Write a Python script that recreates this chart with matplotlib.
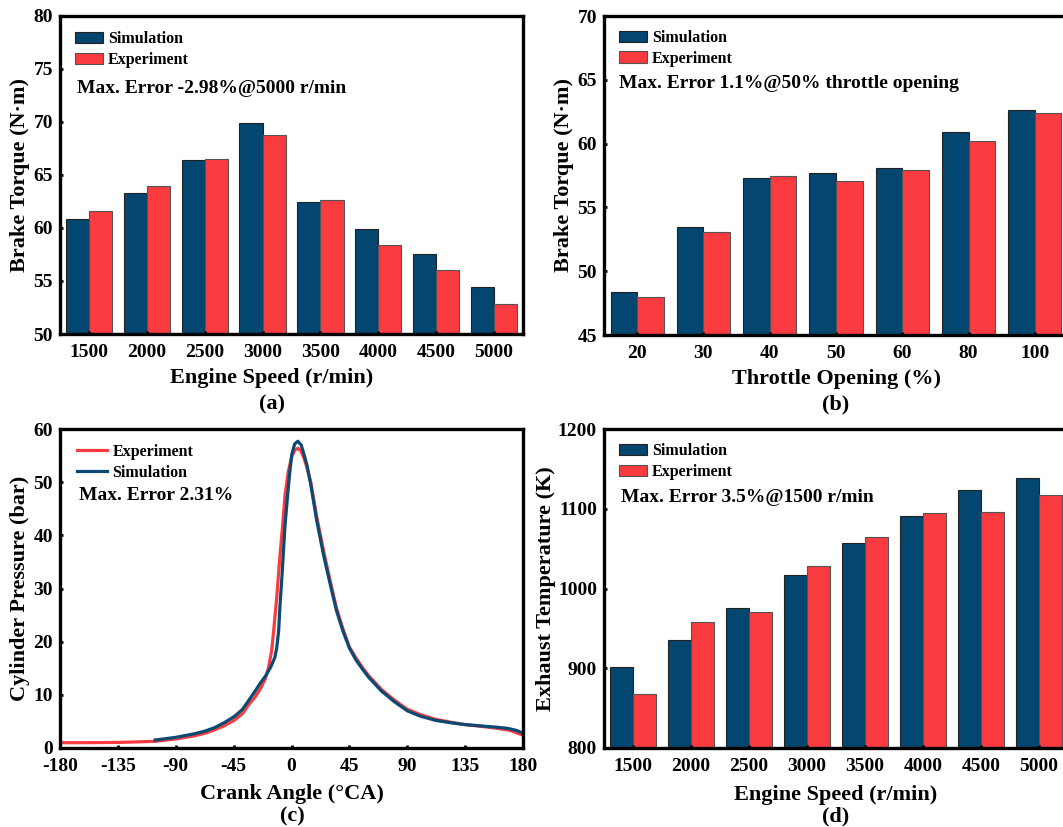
import numpy as np
import matplotlib
matplotlib.use("Agg")
import matplotlib.pyplot as plt

plt.rcParams['font.family'] = ['Liberation Serif', 'DejaVu Serif']
plt.rcParams['font.weight'] = 'bold'
plt.rcParams['axes.labelweight'] = 'bold'
plt.rcParams['axes.unicode_minus'] = False

SIM = '#03466F'
EXP = '#FA3B3F'

# (a) brake torque vs engine speed
speed = ['1500', '2000', '2500', '3000', '3500', '4000', '4500', '5000']
torque_sim = [60.8, 63.3, 66.4, 69.9, 62.4, 59.9, 57.5, 54.4]
torque_exp = [61.6, 63.9, 66.5, 68.7, 62.6, 58.4, 56.0, 52.8]

# (b) brake torque vs throttle opening
throttle = ['20', '30', '40', '50', '60', '80', '100']
thr_sim = [48.4, 53.5, 57.3, 57.7, 58.1, 60.9, 62.6]
thr_exp = [48.0, 53.1, 57.5, 57.1, 57.9, 60.2, 62.4]

# (c) cylinder pressure vs crank angle
ang_exp = [-180, -160, -135, -120, -106, -90, -75, -67, -60, -52, -44, -38, -34, -28,
           -24, -20.6, -18, -15.4, -13.5, -11.5, -8.9, -7, -5, -2.5, 0.2, 2.5, 5, 7.5,
           10, 12, 15, 19.6, 25, 30, 35, 40, 45, 50, 55, 60, 70, 80, 90, 100, 112,
           125, 135, 150, 160, 170, 180]
p_exp = [1.0, 1.0, 1.05, 1.15, 1.25, 1.7, 2.3, 2.8, 3.4, 4.2, 5.3, 6.5, 7.9, 9.7,
         11.2, 12.9, 15.0, 18.3, 23.0, 28.3, 36.4, 41.5, 47.6, 52.0, 54.8, 56.0, 56.4, 55.8,
         54.3, 52.8, 50.0, 43.5, 37.0, 31.5, 26.3, 22.4, 19.0, 17.0, 15.2, 13.6, 11.0, 9.0,
         7.3, 6.3, 5.4, 4.8, 4.4, 4.0, 3.7, 3.3, 2.4]
ang_sim = [-106, -90, -75, -67, -60, -52, -44, -38, -34, -28, -24, -20, -16, -13,
           -11.5, -10, -8.9, -7.5, -6.4, -5, -3.2, -1.5, 0.2, 2.5, 5, 7.5, 10, 12, 15,
           19.6, 25, 30, 35, 40, 45, 50, 55, 60, 70, 80, 90, 100, 112, 125, 135, 150,
           160, 168, 175, 180]
p_sim = [1.5, 2.0, 2.7, 3.2, 3.8, 4.8, 6.0, 7.3, 8.7, 10.8, 12.3, 13.6, 15.3, 17.0,
         18.8, 22.0, 27.0, 32.0, 36.4, 42.0, 47.0, 51.5, 55.2, 57.2, 57.7, 57.0, 55.0, 53.2, 49.5,
         42.8, 36.2, 30.9, 25.8, 22.0, 18.8, 16.6, 14.9, 13.3, 10.7, 8.7, 7.0, 6.0, 5.2, 4.7,
         4.4, 4.1, 3.9, 3.7, 3.3, 2.8]

# (d) exhaust temperature vs engine speed
temp_sim = [901, 936, 976, 1017, 1057, 1091, 1123, 1139]
temp_exp = [868, 958, 970, 1028, 1064, 1095, 1096, 1117]

fig = plt.figure(figsize=(10.63, 8.27), dpi=100)
W, H = 1063, 827


def place(l, t, r, b):
    return fig.add_axes([l / W, 1 - b / H, (r - l) / W, (b - t) / H])


ax_a = place(60, 15.5, 523, 334)
ax_b = place(604, 16, 1068, 335)
ax_c = place(60, 429, 523, 748)
ax_d = place(604, 429, 1068, 748)


def style(ax):
    for s in ax.spines.values():
        s.set_linewidth(2.4)
    ax.tick_params(direction='in', length=2.5, width=2, labelsize=14, pad=5)
    ax.tick_params(axis='x', pad=7)


def bars(ax, cats, sim, exp, ylim, yticks, legy):
    x = np.arange(len(cats))
    w = 0.4
    ax.bar(x - w / 2, sim, w, color=SIM, edgecolor='#222222', linewidth=0.8, label='Simulation')
    ax.bar(x + w / 2, exp, w, color=EXP, edgecolor='#555555', linewidth=0.8, label='Experiment')
    ax.set_xticks(x)
    ax.set_xticklabels(cats)
    ax.set_xlim(-0.5, len(cats) - 0.5)
    ax.set_ylim(*ylim)
    ax.set_yticks(yticks)
    style(ax)
    ax.legend(loc='upper left', bbox_to_anchor=(0.033, legy), frameon=False, fontsize=11.5,
              handlelength=1.75, handleheight=0.7, handletextpad=0.3, labelspacing=0.3,
              borderaxespad=0, borderpad=0)


bars(ax_a, speed, torque_sim, torque_exp, (50, 80), range(50, 81, 5), 0.95)
ax_a.set_ylabel('Brake Torque (N·m)', fontsize=16, va='center')
ax_a.yaxis.set_label_coords(-0.087, 0.5)
ax_a.set_xlabel('Engine Speed (r/min)', fontsize=16, va='center')
ax_a.xaxis.set_label_coords(0.457, -0.138)
ax_a.text(0.037, 0.772, 'Max. Error -2.98%@5000 r/min', transform=ax_a.transAxes,
          fontsize=14, va='center', ha='left')

bars(ax_b, throttle, thr_sim, thr_exp, (45, 70), range(45, 71, 5), 0.957)
ax_b.set_ylabel('Brake Torque (N·m)', fontsize=16, va='center')
ax_b.yaxis.set_label_coords(-0.086, 0.5)
ax_b.set_xlabel('Throttle Opening (%)', fontsize=16, va='center')
ax_b.xaxis.set_label_coords(0.5, -0.139)
ax_b.text(0.033, 0.787, 'Max. Error 1.1%@50% throttle opening', transform=ax_b.transAxes,
          fontsize=14, va='center', ha='left')

bars(ax_d, speed, temp_sim, temp_exp, (800, 1200), range(800, 1201, 100), 0.956)
ax_d.set_ylabel('Exhaust Temperature (K)', fontsize=16, va='center')
ax_d.yaxis.set_label_coords(-0.124, 0.5)
ax_d.set_xlabel('Engine Speed (r/min)', fontsize=16, va='center')
ax_d.xaxis.set_label_coords(0.5, -0.147)
ax_d.text(0.037, 0.785, 'Max. Error 3.5%@1500 r/min', transform=ax_d.transAxes,
          fontsize=14, va='center', ha='left')

ax_c.plot(ang_exp, p_exp, color=EXP, lw=2.3, label='Experiment')
ax_c.plot(ang_sim, p_sim, color='#0B4A73', lw=2.3, label='Simulation')
ax_c.set_xlim(-180, 180)
ax_c.set_ylim(0, 60)
ax_c.set_xticks(range(-180, 181, 45))
ax_c.set_yticks(range(0, 61, 10))
style(ax_c)
ax_c.legend(loc='upper left', bbox_to_anchor=(0.037, 0.953), frameon=False, fontsize=11.5,
            handlelength=1.9, handletextpad=0.3, labelspacing=0.3,
            borderaxespad=0, borderpad=0)
ax_c.set_ylabel('Cylinder Pressure (bar)', fontsize=16, va='center')
ax_c.yaxis.set_label_coords(-0.086, 0.5)
ax_c.set_xlabel('Crank Angle (°CA)', fontsize=16, va='center')
ax_c.xaxis.set_label_coords(0.5, -0.143)
ax_c.text(0.042, 0.79, 'Max. Error 2.31%', transform=ax_c.transAxes,
          fontsize=14, va='center', ha='left')

fig.text(272 / W, 1 - 404 / H, '(a)', fontsize=16, ha='center', va='center')
fig.text(836 / W, 1 - 404 / H, '(b)', fontsize=16, ha='center', va='center')
fig.text(292 / W, 1 - 816 / H, '(c)', fontsize=16, ha='center', va='center')
fig.text(836 / W, 1 - 816 / H, '(d)', fontsize=16, ha='center', va='center')

fig.savefig('out.png', dpi=100)
